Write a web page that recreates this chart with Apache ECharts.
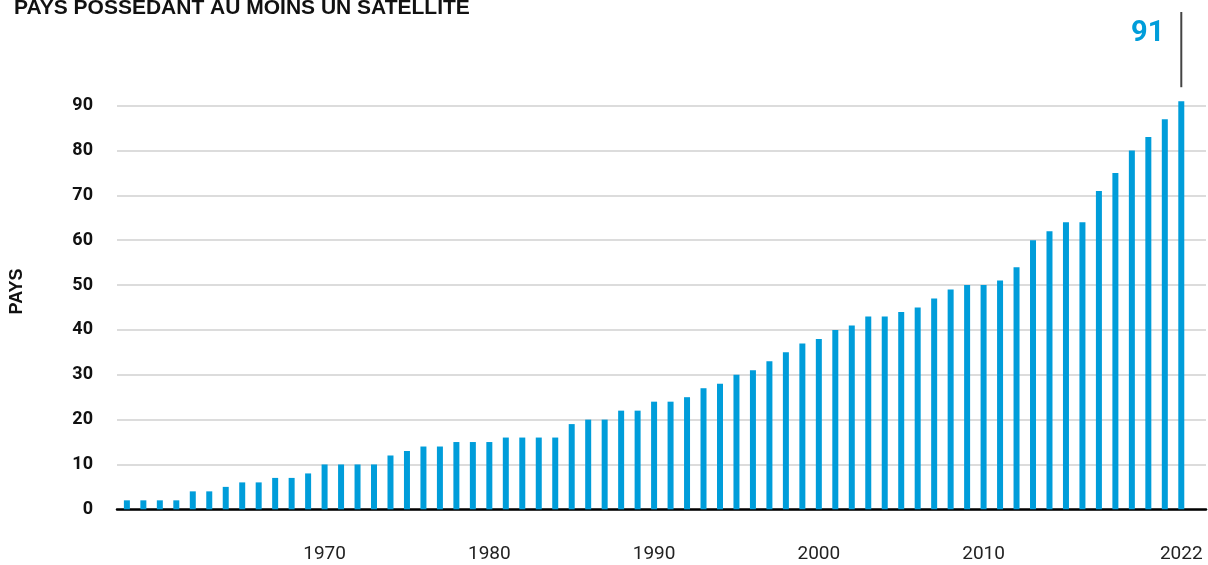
<!DOCTYPE html>
<html>
<head>
<meta charset="utf-8">
<script src="https://cdn.jsdelivr.net/npm/echarts@6/dist/echarts.min.js"></script>
<style>
  html, body { margin: 0; padding: 0; background: #fff; }
  #chart { width: 1208px; height: 565px; }
</style>
</head>
<body>
<div id="chart"></div>
<script>
// Years 1958 - 2022
const years = [
  1958, 1959, 1960, 1961, 1962, 1963, 1964, 1965, 1966, 1967,
  1968, 1969, 1970, 1971, 1972, 1973, 1974, 1975, 1976, 1977,
  1978, 1979, 1980, 1981, 1982, 1983, 1984, 1985, 1986, 1987,
  1988, 1989, 1990, 1991, 1992, 1993, 1994, 1995, 1996, 1997,
  1998, 1999, 2000, 2001, 2002, 2003, 2004, 2005, 2006, 2007,
  2008, 2009, 2010, 2011, 2012, 2013, 2014, 2015, 2016, 2017,
  2018, 2019, 2020, 2021, 2022
]

// Countries owning at least one satellite
const countries = [
  2, 2, 2, 2, 4, 4, 5, 6, 6, 7,
  7, 8, 10, 10, 10, 10, 12, 13, 14, 14,
  15, 15, 15, 16, 16, 16, 16, 19, 20, 20,
  22, 22, 24, 24, 25, 27, 28, 30, 31, 33,
  35, 37, 38, 40, 41, 43, 43, 44, 45, 47,
  49, 50, 50, 51, 54, 60, 62, 64, 64, 71,
  75, 80, 83, 87, 91
]

const xLabelYears = [1970, 1980, 1990, 2000, 2010, 2022]

const barColor = '#009dda'
const fontFamily = 'Roboto, "Noto Sans", sans-serif'
const headFont = '"Liberation Sans", Arial, sans-serif'

const chart = echarts.init(document.getElementById('chart'))

const option = {
  animation: false,
  backgroundColor: '#fff',
  title: {
    text: 'PAYS POSSEDANT AU MOINS UN SATELLITE',
    left: 9,
    top: -7,
    textStyle: {
      fontFamily: headFont,
      fontSize: 21,
      fontWeight: 'bold',
      color: '#111'
    }
  },
  grid: {
    left: 117,
    right: 2,
    top: 105.7,
    bottom: 55.7,
    containLabel: false
  },
  xAxis: {
    type: 'value',
    min: 1957.4,
    max: 2023.5,
    axisLine: {
      show: true,
      onZero: false,
      lineStyle: { color: '#000', width: 2.5 }
    },
    axisTick: { show: false },
    splitLine: { show: false },
    axisLabel: {
      customValues: xLabelYears,
      formatter: v => String(v),
      margin: 35,
      fontFamily: fontFamily,
      fontSize: 19,
      color: '#222'
    }
  },
  yAxis: {
    type: 'value',
    min: 0,
    max: 90,
    interval: 10,
    name: 'PAYS',
    nameLocation: 'middle',
    nameRotate: 90,
    nameGap: 91,
    nameTextStyle: {
      fontFamily: headFont,
      fontSize: 18,
      fontWeight: 'bold',
      color: '#111',
      padding: [0, 0, 0, 32]
    },
    axisLine: { show: false },
    axisTick: { show: false },
    splitLine: {
      show: true,
      lineStyle: { color: '#d0d0d0', width: 1.5 }
    },
    axisLabel: {
      margin: 24,
      fontFamily: fontFamily,
      fontSize: 18,
      fontWeight: 'bold',
      color: '#111'
    }
  },
  series: [
    {
      type: 'bar',
      data: years.map((y, i) => [y, countries[i]]),
      barWidth: 6,
      clip: false,
      itemStyle: { color: barColor },
      z: 1
    }
  ]
}

chart.setOption(option)

// Annotation for the latest value
const lastIdx = years.length - 1
const lastPt = chart.convertToPixel({ seriesIndex: 0 }, [years[lastIdx], countries[lastIdx]])
chart.setOption({
  graphic: [
    {
      type: 'line',
      shape: { x1: lastPt[0], y1: 12, x2: lastPt[0], y2: lastPt[1] - 14 },
      style: { stroke: '#444', lineWidth: 2 }
    },
    {
      type: 'text',
      x: lastPt[0] - 17,
      y: 34,
      style: {
        text: String(countries[lastIdx]),
        fill: barColor,
        font: 'bold 29px Roboto, "Noto Sans", sans-serif',
        textAlign: 'right',
        textVerticalAlign: 'middle'
      }
    }
  ]
})

window.addEventListener('resize', () => chart.resize())
</script>
</body>
</html>
